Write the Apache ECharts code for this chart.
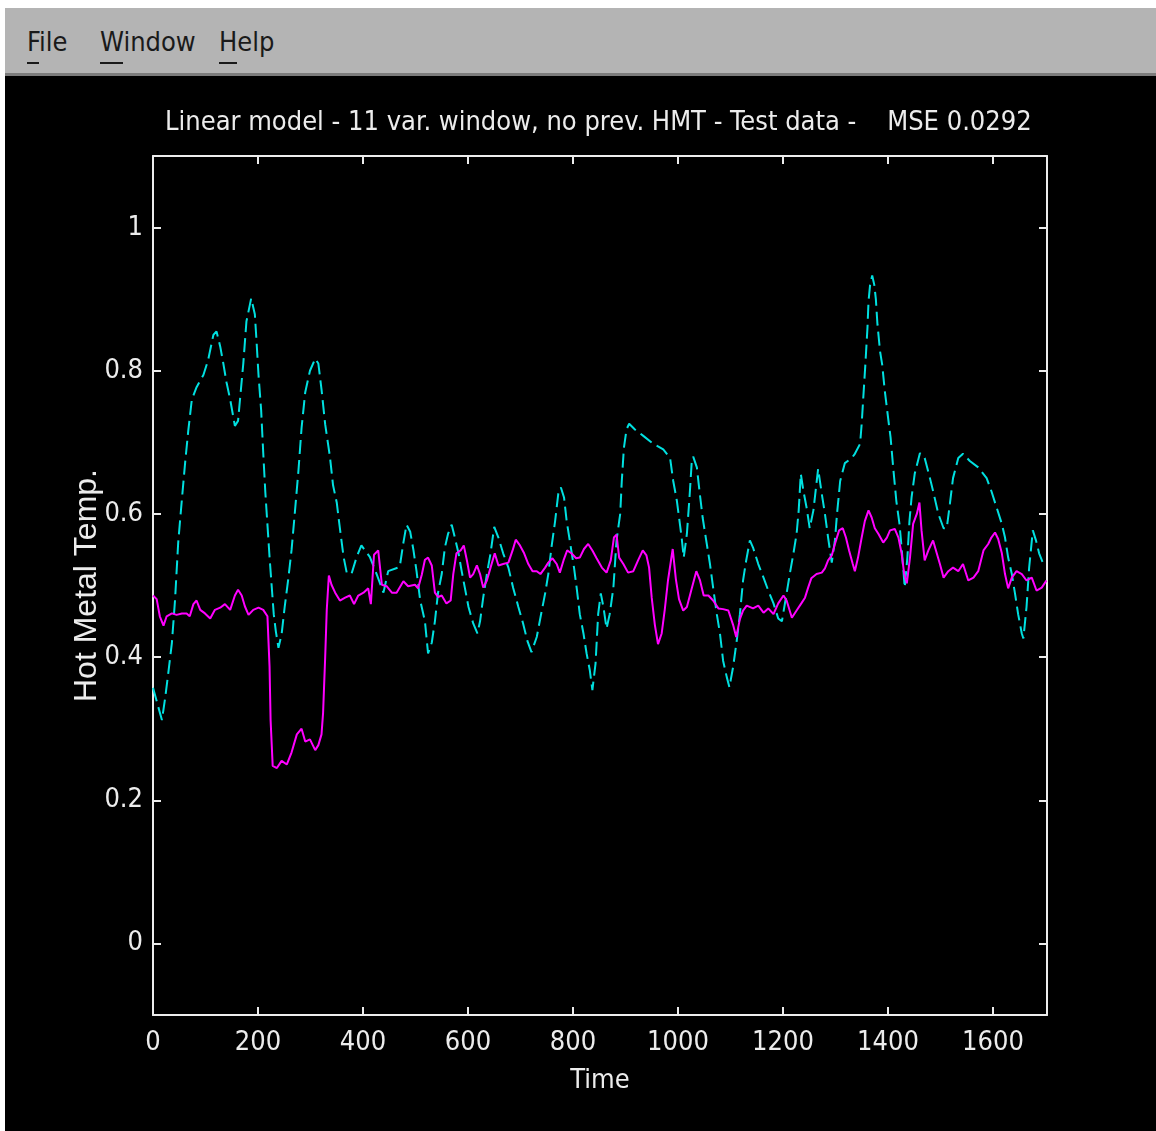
<!DOCTYPE html>
<html>
<head>
<meta charset="utf-8">
<script src="https://cdn.jsdelivr.net/npm/echarts@6/dist/echarts.min.js"></script>
<style>
  html, body { margin: 0; padding: 0; background: #ffffff; }
  body { width: 1156px; height: 1131px; position: relative; overflow: hidden; }
  #menu { position: absolute; left: 5px; top: 8px; width: 1151px; height: 65px; background: #b4b4b4;
          border-bottom: 3px solid #7c7c7c; }
  #menu span { position: absolute; top: 19px; font-family: "Liberation Sans Narrow", "DejaVu Sans Condensed", "Liberation Sans", sans-serif;
               font-size: 27px; color: #1a1a1a; line-height: 30px; }
  #menu u { text-decoration: none; border-bottom: 2px solid #1a1a1a; padding-bottom: 5px; }
  #back { position: absolute; left: 5px; top: 76px; width: 1151px; height: 1055px; background: #000000; }
  #chart { position: absolute; left: 0; top: 0; width: 1156px; height: 1131px; }
</style>
</head>
<body>
<div id="menu">
  <span style="left:22px"><u>F</u>ile</span>
  <span style="left:95px"><u>W</u>indow</span>
  <span style="left:214px"><u>H</u>elp</span>
</div>
<div id="back"></div>
<div id="chart"></div>
<script>
// measured hot metal temperature (cyan, dashed)
const timeMeasured = [0, 17, 23, 29, 36, 42, 48, 55, 61, 67, 74, 83, 96, 105, 115, 121, 128, 134, 140, 147,
  156, 162, 167, 172, 178, 187, 194, 197, 201, 206, 210, 214, 218, 222, 226, 230, 234, 239, 245, 251,
  258, 264, 270, 277, 283, 290, 299, 309, 315, 321, 328, 337, 343, 350, 356, 363, 369, 378, 388, 397,
  413, 426, 439, 448, 470, 477, 483, 490, 496, 502, 509, 518, 524, 531, 537, 543, 550, 556, 562, 569,
  575, 582, 588, 594, 601, 610, 618, 623, 629, 636, 643, 650, 658, 667, 677, 686, 696, 705, 713, 721,
  731, 738, 747, 753, 759, 766, 772, 777, 783, 788, 796, 802, 807, 813, 820, 826, 832, 837, 843, 848,
  853, 858, 864, 870, 877, 883, 890, 893, 897, 902, 907, 918, 934, 953, 972, 985, 991, 998, 1003, 1007,
  1011, 1017, 1022, 1026, 1029, 1036, 1041, 1047, 1053, 1061, 1067, 1074, 1080, 1086, 1093, 1098, 1105, 1112, 1118, 1124,
  1130, 1137, 1143, 1153, 1163, 1172, 1182, 1191, 1198, 1207, 1213, 1220, 1226, 1230, 1234, 1239, 1245, 1251, 1258, 1263,
  1267, 1274, 1280, 1286, 1293, 1299, 1303, 1309, 1318, 1331, 1337, 1347, 1350, 1353, 1357, 1361, 1363, 1366, 1370, 1374,
  1377, 1380, 1385, 1389, 1394, 1401, 1405, 1410, 1416, 1422, 1426, 1429, 1432, 1437, 1441, 1445, 1451, 1461, 1470, 1480,
  1486, 1496, 1506, 1512, 1518, 1524, 1534, 1543, 1556, 1572, 1588, 1597, 1607, 1617, 1623, 1629, 1636, 1642, 1648, 1655,
  1658, 1664, 1669, 1676, 1682, 1688, 1695, 1702];
const hmtMeasured = [0.357, 0.312, 0.342, 0.377, 0.42, 0.48, 0.56, 0.62, 0.67, 0.715, 0.76, 0.777, 0.794, 0.815, 0.85, 0.855, 0.834, 0.81, 0.784, 0.76,
  0.723, 0.73, 0.77, 0.81, 0.869, 0.901, 0.879, 0.844, 0.794, 0.745, 0.685, 0.63, 0.585, 0.54, 0.50, 0.46, 0.436, 0.413, 0.432, 0.471,
  0.511, 0.55, 0.60, 0.66, 0.72, 0.77, 0.80, 0.817, 0.81, 0.774, 0.725, 0.68, 0.64, 0.616, 0.58, 0.54, 0.518, 0.516, 0.54, 0.556,
  0.54, 0.516, 0.49, 0.52, 0.526, 0.56, 0.585, 0.575, 0.55, 0.52, 0.479, 0.45, 0.405, 0.42, 0.45, 0.49, 0.516, 0.553, 0.572, 0.585,
  0.567, 0.545, 0.52, 0.497, 0.47, 0.447, 0.433, 0.45, 0.483, 0.516, 0.545, 0.582, 0.567, 0.545, 0.525, 0.497, 0.47, 0.447, 0.423, 0.407,
  0.428, 0.455, 0.489, 0.516, 0.553, 0.59, 0.628, 0.637, 0.623, 0.59, 0.553, 0.525, 0.497, 0.46, 0.433, 0.405, 0.382, 0.354, 0.391, 0.46,
  0.489, 0.47, 0.44, 0.46, 0.497, 0.563, 0.60, 0.646, 0.692, 0.718, 0.726, 0.718, 0.709, 0.698, 0.69, 0.678, 0.646, 0.618, 0.59, 0.567,
  0.539, 0.572, 0.623, 0.67, 0.68, 0.665, 0.632, 0.595, 0.567, 0.53, 0.497, 0.46, 0.433, 0.395, 0.372, 0.358, 0.386, 0.423, 0.46, 0.507,
  0.535, 0.563, 0.553, 0.53, 0.511, 0.493, 0.475, 0.454, 0.45, 0.489, 0.516, 0.545, 0.572, 0.605, 0.656, 0.632, 0.609, 0.58, 0.605, 0.637,
  0.663, 0.628, 0.60, 0.567, 0.532, 0.563, 0.60, 0.646, 0.671, 0.678, 0.684, 0.698, 0.726, 0.762, 0.809, 0.86, 0.897, 0.92, 0.933, 0.92,
  0.90, 0.865, 0.827, 0.809, 0.772, 0.73, 0.707, 0.665, 0.618, 0.586, 0.553, 0.525, 0.497, 0.539, 0.59, 0.623, 0.656, 0.685, 0.678, 0.65,
  0.632, 0.60, 0.58, 0.58, 0.614, 0.65, 0.678, 0.684, 0.674, 0.665, 0.65, 0.632, 0.609, 0.586, 0.567, 0.539, 0.516, 0.489, 0.46, 0.433,
  0.426, 0.47, 0.525, 0.577, 0.563, 0.545, 0.532, 0.53];

// linear model output (magenta, solid)
const timeModel = [0, 7, 13, 20, 26, 36, 45, 55, 64, 70, 77, 83, 90, 99, 109, 118, 128, 137, 147, 156,
  162, 169, 175, 182, 191, 201, 210, 218, 222, 224, 228, 236, 245, 255, 264, 274, 283, 290, 299, 309,
  315, 321, 324, 328, 331, 335, 340, 347, 356, 366, 375, 383, 391, 401, 410, 415, 421, 429, 436, 445,
  455, 464, 477, 486, 499, 505, 512, 518, 524, 531, 537, 543, 550, 559, 567, 572, 578, 586, 592, 598,
  604, 610, 617, 623, 629, 636, 643, 651, 658, 667, 677, 685, 691, 699, 707, 715, 723, 731, 738, 747,
  753, 761, 769, 775, 782, 789, 797, 806, 813, 821, 829, 837, 845, 855, 864, 872, 878, 883, 888, 896,
  905, 915, 924, 933, 940, 945, 950, 956, 962, 969, 975, 981, 990, 996, 1002, 1010, 1017, 1026, 1035, 1042,
  1049, 1058, 1067, 1077, 1086, 1096, 1105, 1111, 1118, 1124, 1131, 1143, 1153, 1163, 1172, 1182, 1191, 1201, 1207, 1217,
  1226, 1235, 1242, 1248, 1254, 1264, 1274, 1280, 1286, 1293, 1299, 1307, 1314, 1320, 1326, 1333, 1337, 1343, 1350, 1356,
  1363, 1369, 1375, 1382, 1391, 1398, 1404, 1413, 1420, 1426, 1431, 1436, 1442, 1448, 1455, 1460, 1464, 1470, 1477, 1486,
  1493, 1499, 1506, 1515, 1524, 1534, 1543, 1553, 1563, 1572, 1582, 1591, 1597, 1604, 1610, 1617, 1623, 1629, 1636, 1645,
  1655, 1664, 1674, 1683, 1693, 1702];
const hmtModel = [0.486, 0.481, 0.457, 0.444, 0.457, 0.461, 0.459, 0.461, 0.461, 0.457, 0.474, 0.479, 0.466, 0.461, 0.454, 0.466, 0.469, 0.474, 0.466, 0.486,
  0.494, 0.486, 0.471, 0.459, 0.466, 0.469, 0.466, 0.457, 0.387, 0.312, 0.248, 0.245, 0.255, 0.25, 0.267, 0.292, 0.30, 0.282, 0.285, 0.27,
  0.277, 0.292, 0.322, 0.40, 0.466, 0.514, 0.501, 0.49, 0.479, 0.483, 0.486, 0.474, 0.486, 0.49, 0.496, 0.474, 0.543, 0.549, 0.501, 0.499,
  0.49, 0.49, 0.506, 0.499, 0.501, 0.496, 0.515, 0.536, 0.539, 0.528, 0.49, 0.484, 0.486, 0.475, 0.479, 0.516, 0.545, 0.549, 0.556, 0.535,
  0.511, 0.516, 0.528, 0.516, 0.497, 0.507, 0.525, 0.545, 0.528, 0.53, 0.532, 0.549, 0.564, 0.556, 0.545, 0.53, 0.52, 0.52, 0.516, 0.525,
  0.532, 0.538, 0.53, 0.518, 0.535, 0.549, 0.545, 0.538, 0.539, 0.551, 0.558, 0.549, 0.538, 0.525, 0.518, 0.535, 0.567, 0.571, 0.539, 0.53,
  0.518, 0.52, 0.535, 0.549, 0.542, 0.525, 0.483, 0.445, 0.418, 0.433, 0.467, 0.507, 0.551, 0.509, 0.481, 0.465, 0.47, 0.495, 0.52, 0.507,
  0.486, 0.486, 0.479, 0.468, 0.467, 0.465, 0.445, 0.428, 0.453, 0.465, 0.472, 0.468, 0.472, 0.462, 0.468, 0.46, 0.475, 0.486, 0.479, 0.455,
  0.465, 0.475, 0.483, 0.497, 0.51, 0.516, 0.518, 0.524, 0.535, 0.542, 0.558, 0.577, 0.58, 0.567, 0.549, 0.53, 0.52, 0.539, 0.567, 0.59,
  0.605, 0.595, 0.58, 0.572, 0.56, 0.567, 0.577, 0.579, 0.567, 0.545, 0.516, 0.503, 0.539, 0.586, 0.60, 0.616, 0.577, 0.535, 0.549, 0.563,
  0.545, 0.53, 0.511, 0.52, 0.525, 0.52, 0.53, 0.507, 0.511, 0.52, 0.549, 0.558, 0.567, 0.574, 0.565, 0.545, 0.516, 0.496, 0.511, 0.52,
  0.516, 0.507, 0.511, 0.493, 0.497, 0.507];

const xTicks = [0, 200, 400, 600, 800, 1000, 1200, 1400, 1600];
const yTicks = [0, 0.2, 0.4, 0.6, 0.8, 1];

const FONT = '"Liberation Sans Narrow", "DejaVu Sans Condensed", "Liberation Sans", sans-serif';
const INK = '#ececec';

var chart = echarts.init(document.getElementById('chart'), null, { renderer: 'canvas' });

function frameAxis(pos, min, max, ticks, labels) {
  return {
    type: 'value',
    position: pos,
    min: min,
    max: max,
    axisLine: { show: true, onZero: false, lineStyle: { color: INK, width: 2 } },
    axisTick: { show: true, inside: true, length: 8, customValues: ticks, lineStyle: { color: INK, width: 2 } },
    axisLabel: labels ? Object.assign({ customValues: ticks, color: INK, fontFamily: FONT, fontSize: 27 }, labels) : { show: false },
    splitLine: { show: false }
  };
}

var xBottom = frameAxis('bottom', 0, 1703, xTicks, { margin: 14, formatter: function (v) { return String(v); } });
xBottom.name = 'Time';
xBottom.nameLocation = 'middle';
xBottom.nameGap = 52;
xBottom.nameMoveOverlap = false;
xBottom.nameTextStyle = { color: INK, fontFamily: FONT, fontSize: 27 };

var yLeft = frameAxis('left', -0.1, 1.1, yTicks, { margin: 10, formatter: function (v) { return String(+v.toFixed(1)); } });
yLeft.name = 'Hot Metal Temp.';
yLeft.nameLocation = 'middle';
yLeft.nameGap = 50;
yLeft.nameMoveOverlap = false;
yLeft.nameTextStyle = { color: INK, fontFamily: '"Liberation Sans", sans-serif', fontSize: 32 };

var option = {
  animation: false,
  backgroundColor: 'transparent',
  grid: { left: 153, right: 109, top: 156, bottom: 116 },
  graphic: [{
    type: 'text',
    left: 165,
    top: 109,
    style: {
      text: 'Linear model - 11 var. window, no prev. HMT - Test data -    MSE 0.0292',
      fill: INK,
      font: '27px ' + FONT
    }
  }],
  xAxis: [xBottom, frameAxis('top', 0, 1703, xTicks, null)],
  yAxis: [yLeft, frameAxis('right', -0.1, 1.1, yTicks, null)],
  series: [
    {
      name: 'Measured',
      type: 'line',
      showSymbol: false,
      symbol: 'none',
      data: timeMeasured.map(function (t, i) { return [t, hmtMeasured[i]]; }),
      lineStyle: { color: '#00e0e0', width: 2, type: [14, 6] }
    },
    {
      name: 'Model',
      type: 'line',
      showSymbol: false,
      symbol: 'none',
      data: timeModel.map(function (t, i) { return [t, hmtModel[i]]; }),
      lineStyle: { color: '#ff00ff', width: 2 }
    }
  ]
};
chart.setOption(option);
</script>
</body>
</html>
